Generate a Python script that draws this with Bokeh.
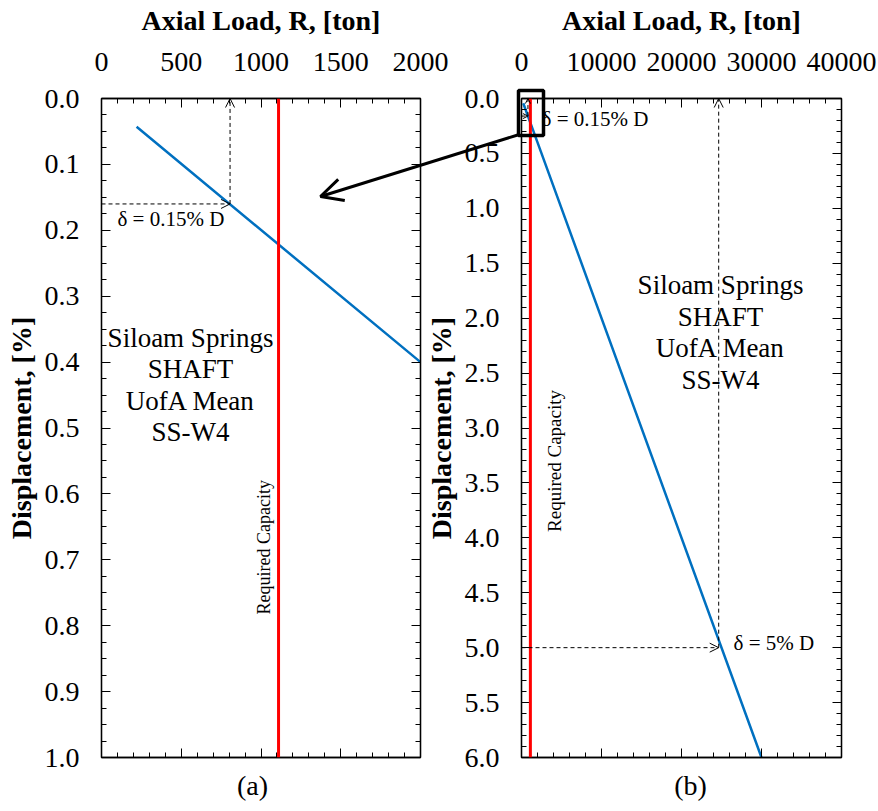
from bokeh.plotting import figure
from bokeh.layouts import row
from bokeh.models import (Range1d, LinearAxis, SingleIntervalTicker, NumeralTickFormatter,
                          CustomJSTickFormatter, Arrow, OpenHead, Label, Span)
from bokeh.embed import file_html
from bokeh.resources import INLINE

FONT = "Liberation Serif"

# ---------------- data ----------------
load_ton = [220, 2000, 30000]            # axial load R [ton]
displacement_pct = [0.043, 0.40, 6.0]    # displacement [%]
required_capacity_ton = 1110
delta_015_pct, delta_015_load = 0.16, 806
delta_5_pct, delta_5_load = 5.0, 24650
case_text = "Siloam Springs\nSHAFT\nUofA Mean\nSS-W4"

BLUE = "#0070C0"
RED = "#FF0000"

# page geometry
W, H = 878, 811
TOP, BOTTOM = 98, 54
A_LEFT, A_W = 101, 470
B_CANVAS_X0 = 300
B_FRAME_L, B_FRAME_R = 521, 841
B_XMAX, B_YMAX = 40000, 6.0


def blank_axis(ticker):
    ax = LinearAxis(ticker=ticker, formatter=CustomJSTickFormatter(code="return ''"))
    ax.major_tick_in = 9
    ax.major_tick_out = 0
    ax.minor_tick_in = 5
    ax.minor_tick_out = 0
    ax.axis_line_color = "black"
    ax.axis_line_width = 1.3
    ax.major_label_standoff = 0
    return ax


def make_panel(xmax, xint, ymax, yint, width, bl, br):
    p = figure(width=width, height=H, x_range=Range1d(0, xmax), y_range=Range1d(ymax, 0),
               x_axis_location="above", output_backend="svg", toolbar_location=None,
               min_border_left=bl, min_border_right=br, min_border_top=TOP, min_border_bottom=BOTTOM)
    p.grid.visible = False
    p.outline_line_color = "black"
    p.outline_line_width = 1.3
    xt = SingleIntervalTicker(interval=xint, num_minor_ticks=5)
    yt = SingleIntervalTicker(interval=yint, num_minor_ticks=5 if yint == 0.5 else 4)
    xa = p.xaxis[0]
    ya = p.yaxis[0]
    xa.ticker = xt
    ya.ticker = yt
    xa.formatter = NumeralTickFormatter(format="0")
    ya.formatter = NumeralTickFormatter(format="0.0")
    for ax in (xa, ya):
        ax.major_tick_in = 9
        ax.major_tick_out = 0
        ax.minor_tick_in = 5
        ax.minor_tick_out = 0
        ax.axis_line_color = "black"
        ax.axis_line_width = 1.3
        ax.major_label_text_font = FONT
        ax.major_label_text_font_size = "28px"
        ax.major_label_text_color = "black"
        ax.axis_label_text_font = FONT
        ax.axis_label_text_font_size = "28px"
        ax.axis_label_text_font_style = "bold"
        ax.axis_label_text_color = "black"
    xa.axis_label = "Axial Load, R, [ton]"
    ya.axis_label = "Displacement, [%]"
    xa.major_label_standoff = 28
    xa.axis_label_standoff = 14
    ya.major_label_standoff = 22
    ya.axis_label_standoff = 5
    p.add_layout(blank_axis(xt), "below")
    p.add_layout(blank_axis(yt), "right")

    # required capacity
    p.add_layout(Span(location=required_capacity_ton, dimension="height", line_color=RED, line_width=3))
    # load-displacement curve
    p.line(load_ton, displacement_pct, line_color=BLUE, line_width=2.5)
    return p


def dashed_arrows(p, load, disp, head):
    p.add_layout(Arrow(end=OpenHead(size=head, line_width=1, line_color="black"),
                       x_start=0, y_start=disp, x_end=load, y_end=disp,
                       line_dash="4 3", line_width=1, line_color="black"))
    p.add_layout(Arrow(end=OpenHead(size=head, line_width=1, line_color="black"),
                       x_start=load, y_start=disp, x_end=load, y_end=0,
                       line_dash="4 3", line_width=1, line_color="black"))


# ---------------- panel (a) ----------------
p1 = make_panel(2000, 500, 1.0, 0.1, A_W, A_LEFT, A_W - 420)
p1.background_fill_color = "white"
dashed_arrows(p1, delta_015_load, delta_015_pct, 9)
p1.add_layout(Label(x=100, y=delta_015_pct, text="δ = 0.15% D", text_font=FONT, text_font_size="21px",
                    text_baseline="top", text_align="left", y_offset=-3, text_color="black"))
p1.add_layout(Label(x=558, y=0.435, text=case_text, text_font=FONT, text_font_size="27px",
                    text_line_height=1.05,
                    text_align="center", text_baseline="middle", text_color="black"))
p1.add_layout(Label(x=required_capacity_ton, y=0.681, text="Required Capacity", text_font=FONT,
                    text_font_size="18px", angle=1.5708, text_align="center", text_baseline="bottom",
                    x_offset=-5, text_color="black"))

# ---------------- panel (b) ----------------
p2 = make_panel(B_XMAX, 10000, B_YMAX, 0.5, W - B_CANVAS_X0,
                B_FRAME_L - B_CANVAS_X0, W - B_FRAME_R)
p2.background_fill_color = None
p2.border_fill_color = None
p2.margin = (0, 0, 0, B_CANVAS_X0 - A_W)
dashed_arrows(p2, delta_015_load, delta_015_pct, 5)
dashed_arrows(p2, delta_5_load, delta_5_pct, 9)
p2.add_layout(Label(x=2500, y=0.19, text="δ = 0.15% D", text_font=FONT, text_font_size="21px",
                    text_align="left", text_baseline="middle", text_color="black"))
p2.add_layout(Label(x=26500, y=4.955, text="δ = 5% D", text_font=FONT, text_font_size="21px",
                    text_align="left", text_baseline="middle", text_color="black"))
p2.add_layout(Label(x=24875, y=2.13, text=case_text, text_font=FONT, text_font_size="27px",
                    text_line_height=1.05,
                    text_align="center", text_baseline="middle", text_color="black"))
p2.add_layout(Label(x=required_capacity_ton, y=3.30, text="Required Capacity", text_font=FONT,
                    text_font_size="19px", angle=1.5708, text_align="center", text_baseline="top",
                    x_offset=14, text_color="black"))

# ---------------- overlay (uses panel (b) data units over the whole page) ----------------
ton_per_px = B_XMAX / (B_FRAME_R - B_FRAME_L)
pct_per_px = B_YMAX / (H - TOP - BOTTOM)
p3 = figure(width=W, height=H, title=None, output_backend="svg", toolbar_location=None,
            x_axis_location=None, y_axis_location=None,
            x_range=Range1d(-B_FRAME_L * ton_per_px, (W - B_FRAME_L) * ton_per_px),
            y_range=Range1d((H - TOP) * pct_per_px, -TOP * pct_per_px),
            min_border_left=0, min_border_right=0, min_border_top=0, min_border_bottom=0)
p3.frame_align = False
p3.grid.visible = False
p3.outline_line_color = None
p3.background_fill_color = None
p3.border_fill_color = None
p3.margin = (0, 0, 0, -W)

# zoom box around the origin of panel (b) and pointer to panel (a)
box_l, box_r, box_t, box_b = -375, 2750, -0.073, 0.337
p3.quad(left=[box_l], right=[box_r], top=[box_t], bottom=[box_b],
        fill_color=None, line_color="black", line_width=3.5)
p3.add_layout(Arrow(end=OpenHead(size=22, line_width=3, line_color="black"),
                    x_start=box_l, y_start=0.33, x_end=-25125, y_end=0.892,
                    line_color="black", line_width=3))
# panel captions
p3.add_layout(Label(x=-33625, y=6.255, text="(a)", text_font=FONT, text_font_size="28px",
                    text_align="center", text_baseline="middle", text_color="black"))
p3.add_layout(Label(x=21125, y=6.255, text="(b)", text_font=FONT, text_font_size="28px",
                    text_align="center", text_baseline="middle", text_color="black"))

layout = row(p1, p2, p3)
open("out.html", "w").write(file_html(layout, INLINE))
